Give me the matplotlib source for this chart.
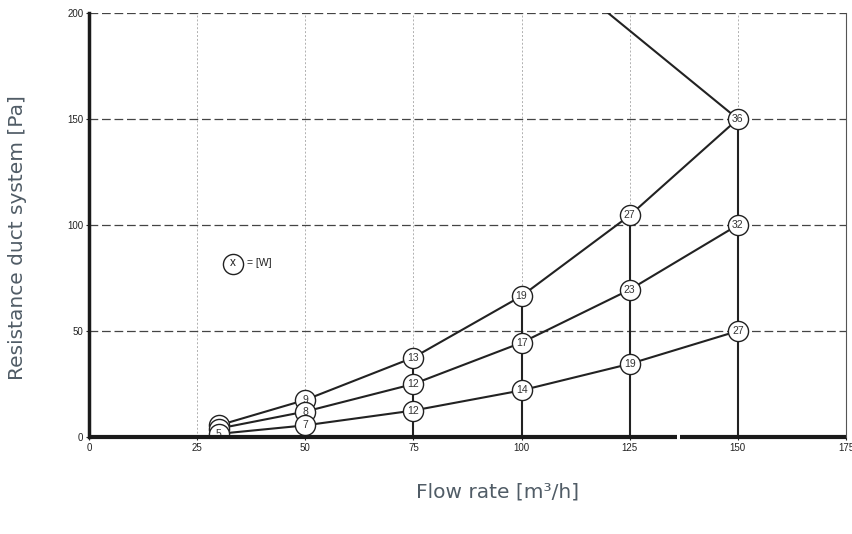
import matplotlib.pyplot as plt
import numpy as np

plt.rcParams['font.family'] = ['Liberation Sans', 'DejaVu Sans']

# flow rate points and resistance curves
flow = [30, 50, 75, 100, 125, 150]
res_high = [5.5, 17.5, 37.5, 66.5, 104.5, 150]
res_mid = [4, 12, 25, 44.5, 69.5, 100]
res_low = [1.5, 5.5, 12.5, 22, 34.5, 50]
watt_high = [6, 9, 13, 19, 27, 36]
watt_mid = [5, 8, 12, 17, 23, 32]
watt_low = [5, 7, 12, 14, 19, 27]

# limit line (max curve)
limit_x = [150, 120]
limit_y = [150, 200]

# vertical connector lines
vert_x = [75, 100, 125, 150]
vert_top = [37.5, 66.5, 104.5, 150]

fig = plt.figure(figsize=(8.53, 5.34), dpi=100)
ax = fig.add_axes([0.1043, 0.1816, 0.8875, 0.7941])

ax.set_xlim(0, 175)
ax.set_ylim(0, 200)
ax.set_xticks(np.arange(0, 176, 25))
ax.set_yticks([0, 50, 100, 150, 200])
ax.tick_params(labelsize=7, length=2, width=0.8, colors='#222222', pad=2)

# grid
for xv in [25, 50, 75, 100, 125, 150]:
    ax.axvline(xv, color='#b0b0b0', lw=0.7, ls=(0, (2, 2)), zorder=0)
for yv in [50, 100, 150, 200]:
    ax.axhline(yv, color='#444444', lw=0.9, ls=(0, (7, 3)), zorder=0)

ax.spines['top'].set_visible(False)
ax.spines['bottom'].set_visible(False)
ax.spines['left'].set_linewidth(2.5)
ax.spines['left'].set_color('#1a1a1a')
ax.spines['right'].set_linewidth(0.8)
ax.spines['right'].set_color('#555555')

# bottom axis drawn in two pieces (gap near 136)
ax.plot([0, 135.9], [0, 0], color='#1a1a1a', lw=3, clip_on=False, zorder=20, solid_capstyle='butt')
ax.plot([136.6, 175], [0, 0], color='#1a1a1a', lw=3, clip_on=False, zorder=20, solid_capstyle='butt')

for xv, top in zip(vert_x, vert_top):
    ax.plot([xv, xv], [0, top], color='#222222', lw=1.5, zorder=2)

ax.plot(limit_x, limit_y, color='#222222', lw=1.5, zorder=2)

z = 3
for res, watt in [(res_high, watt_high), (res_mid, watt_mid), (res_low, watt_low)]:
    ax.plot(flow, res, color='#222222', lw=1.5, zorder=2)
    for xv, yv, w in zip(flow, res, watt):
        ax.plot(xv, yv, 'o', ms=14.5, mfc='white', mec='#222222', mew=1.0, zorder=z)
        ax.text(xv, yv, str(w), ha='center', va='center', fontsize=7.5,
                color='#333333', zorder=z + 0.5)
    z += 1

# legend key
ax.plot(33.3, 81.6, 'o', ms=14.5, mfc='white', mec='#222222', mew=1.0, zorder=3)
ax.text(33.3, 82.3, 'x', ha='center', va='center', fontsize=8.5, color='#222222', zorder=4)
ax.text(36.6, 82, '= [W]', ha='left', va='center', fontsize=7.5, color='#222222')

fig.text(0.021, 0.555, 'Resistance duct system [Pa]', rotation=90, ha='center', va='center',
         fontsize=14.5, color='#505c66', family='DejaVu Sans')
fig.text(0.583, 0.079, 'Flow rate [m³/h]', ha='center', va='center',
         fontsize=14.5, color='#505c66', family='DejaVu Sans')

plt.savefig('out.png', dpi=100)
